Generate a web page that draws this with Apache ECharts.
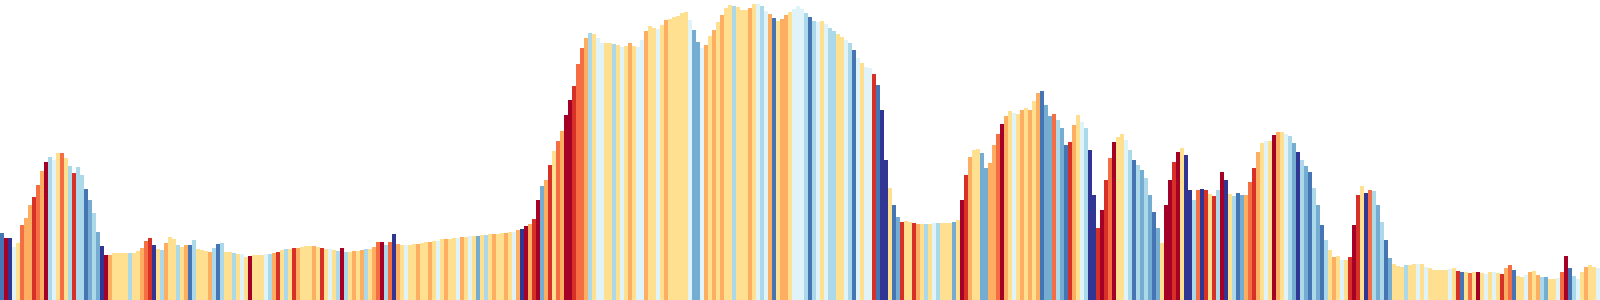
<!DOCTYPE html>
<html>
<head>
<meta charset="utf-8">
<style>
  html, body { margin: 0; padding: 0; background: #ffffff; }
  #chart { width: 1600px; height: 300px; }
</style>
<script src="https://cdn.jsdelivr.net/npm/echarts@6/dist/echarts.min.js"></script>
</head>
<body>
<div id="chart"></div>
<script>
// Elevation profile (relative height units), one value per segment
const elevation = [
  67, 62, 62, 53, 57, 75, 82, 95, 103, 115,
  129, 138, 143, 140, 147, 147, 142, 134, 127, 133,
  125, 111, 100, 87, 68, 54, 45, 45, 47, 47,
  47, 47, 47, 47, 49, 52, 59, 62, 55, 51,
  50, 57, 63, 61, 55, 53, 55, 55, 60, 51,
  50, 49, 48, 52, 56, 57, 48, 48, 47, 46,
  46, 43, 44, 45, 45, 45, 46, 46, 47, 48,
  50, 51, 51, 52, 52, 53, 54, 54, 54, 53,
  52, 51, 51, 50, 49, 52, 48, 48, 49, 49,
  50, 51, 51, 53, 58, 58, 55, 58, 66, 56,
  55, 55, 55, 56, 56, 57, 58, 58, 59, 59,
  61, 61, 61, 62, 62, 63, 63, 64, 64, 64,
  65, 65, 66, 66, 66, 67, 67, 68, 68, 70,
  71, 74, 76, 81, 100, 114, 120, 135, 149, 159,
  169, 185, 200, 214, 236, 252, 262, 267, 266, 262,
  257, 257, 257, 256, 255, 253, 254, 257, 254, 253,
  260, 269, 274, 272, 271, 275, 280, 281, 283, 284,
  287, 288, 280, 270, 258, 252, 255, 264, 270, 278,
  285, 292, 295, 294, 293, 290, 290, 292, 296, 296,
  294, 289, 286, 282, 279, 281, 285, 288, 291, 294,
  291, 287, 283, 279, 278, 279, 276, 272, 269, 266,
  263, 260, 257, 250, 242, 237, 233, 232, 226, 215,
  190, 140, 112, 95, 83, 78, 79, 78, 77, 76,
  76, 76, 76, 77, 77, 77, 77, 77, 78, 80,
  100, 125, 143, 150, 151, 147, 132, 137, 155, 166,
  176, 184, 189, 187, 186, 190, 192, 190, 199, 207,
  209, 195, 184, 186, 180, 172, 155, 158, 175, 185,
  178, 172, 150, 105, 72, 90, 120, 142, 158, 163,
  166, 160, 150, 140, 135, 130, 122, 105, 88, 72,
  57, 95, 120, 138, 148, 152, 145, 110, 100, 110,
  111, 110, 106, 104, 110, 128, 120, 106, 104, 107,
  105, 105, 118, 132, 148, 157, 159, 159, 165, 168,
  168, 166, 164, 157, 148, 140, 134, 128, 112, 95,
  75, 60, 50, 43, 44, 40, 40, 43, 75, 105,
  114, 107, 110, 109, 95, 78, 60, 42, 36, 34,
  33, 35, 35, 36, 36, 36, 33, 32, 30, 30,
  30, 30, 31, 32, 29, 28, 28, 27, 28, 28,
  27, 26, 28, 28, 27, 26, 32, 35, 30, 24,
  23, 25, 28, 29, 25, 23, 23, 21, 21, 22,
  28, 44, 32, 24, 21, 28, 33, 35, 33, 32
];

// Grade class of each segment (0 = steepest climb ... 9 = steepest descent)
const gradeClass = [
  "8095423312", "3065424616", "6876790344", "4464432194",
  "6344643864", "4436864464", "5404445631", "4641344434",
  "1454606434", "3643206293", "4544344345", "4344534547",
  "4643443453", "9031073142", "3001223645", "5446454345",
  "5344543444", "4457753434", "3446444345", "6538433455",
  "5686545664", "4568545518", "9948714413", "4645644474",
  "0134477332", "0345434343", "8772678134", "5699101204",
  "4568676787", "4001049962", "9141609468", "7321345403",
  "4567967867", "8643454101", "4926768744", "4644545444",
  "4454184240", "4545413284", "4534367445", "2086543445"
].join("");

// RdYlBu colour scale
const palette = [
  "#a50026", "#d73027", "#f46d43", "#fdae61", "#fee090",
  "#e0f3f8", "#abd9e9", "#74add1", "#4575b4", "#313695"
];

const categories = elevation.map((_, i) => String(i));

const chart = echarts.init(document.getElementById('chart'), null, { renderer: 'canvas' });
chart.setOption({
  animation: false,
  backgroundColor: '#ffffff',
  grid: { left: 0, right: 0, top: 0, bottom: 0 },
  xAxis: {
    type: 'category',
    data: categories,
    show: false,
    boundaryGap: true
  },
  yAxis: {
    type: 'value',
    min: 0,
    max: 300,
    show: false
  },
  series: [{
    type: 'bar',
    data: elevation,
    barCategoryGap: '0%',
    barGap: '0%',
    itemStyle: {
      color: function (p) { return palette[Number(gradeClass[p.dataIndex])]; }
    },
    silent: true
  }]
});
</script>
</body>
</html>
